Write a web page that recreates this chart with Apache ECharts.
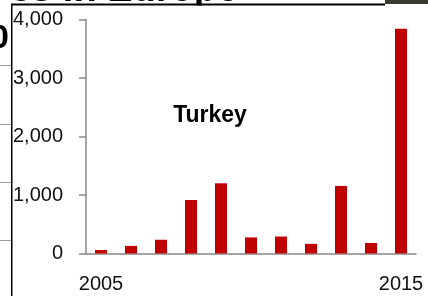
<!DOCTYPE html>
<html>
<head>
<meta charset="utf-8">
<script src="https://cdn.jsdelivr.net/npm/echarts@6/dist/echarts.min.js"></script>
<style>html,body{margin:0;padding:0;background:#fff}#c{width:428px;height:296px}</style>
</head>
<body>
<div id="c"></div>
<script>
var years = ['2005','2006','2007','2008','2009','2010','2011','2012','2013','2014','2015'];
var applications = [60, 130, 235, 915, 1200, 275, 290, 165, 1155, 180, 3840];
var yTicks = [0, 1000, 2000, 3000, 4000];
var seriesName = 'Turkey';
var titleFragment = 'es in Europe';

var labelFont = '"Liberation Sans",Arial,sans-serif';
var chart = echarts.init(document.getElementById('c'), null, {renderer: 'canvas'});
chart.setOption({
  animation: false,
  grid: {left: 86, right: 12, top: 19.5, bottom: 42.5},
  xAxis: {
    type: 'category',
    data: years,
    boundaryGap: true,
    axisLine: {lineStyle: {color: '#888', width: 1.5}},
    axisTick: {show: false},
    axisLabel: {
      interval: function (i) { return i === 0 || i === years.length - 1; },
      color: '#111', fontFamily: labelFont, fontSize: 20, margin: 21
    }
  },
  yAxis: {
    type: 'value',
    min: yTicks[0], max: yTicks[yTicks.length - 1], interval: 1000,
    axisLine: {show: true, lineStyle: {color: '#888', width: 1.5}},
    axisTick: {show: true, length: 7, lineStyle: {color: '#888', width: 1.5}},
    splitLine: {show: false},
    axisLabel: {
      color: '#111', fontFamily: labelFont, fontSize: 20, margin: 23,
      formatter: function (v) { return v.toLocaleString('en-US'); }
    }
  },
  series: [{
    name: seriesName,
    type: 'bar',
    data: applications,
    barWidth: 12,
    itemStyle: {color: '#C00000'}
  }],
  graphic: [
    {type: 'text', x: 210, y: 116, style: {text: seriesName, fill: '#000', font: 'bold 23px "Liberation Sans", Arial, sans-serif', textAlign: 'center', textVerticalAlign: 'middle'}},
    {type: 'text', x: 10, y: -9.5, z: 1, style: {text: titleFragment, fill: '#000', font: 'bold 38px "Liberation Sans", Arial, sans-serif', textAlign: 'left', textVerticalAlign: 'middle'}},
    {type: 'rect', z: 2, shape: {x: 13, y: 5.5, width: 2, height: 8}, style: {fill: '#fff'}},
    {type: 'rect', z: 2, shape: {x: 90, y: 5.5, width: 294, height: 10}, style: {fill: '#fff'}},
    {type: 'rect', z: 3, shape: {x: 385, y: 0, width: 43, height: 4}, style: {fill: '#3b3a30'}},
    {type: 'line', z: 3, shape: {x1: 11, y1: 4.5, x2: 385, y2: 4.5}, style: {stroke: '#000', lineWidth: 2}},
    {type: 'line', z: 3, shape: {x1: 11.75, y1: 4, x2: 11.75, y2: 296}, style: {stroke: '#000', lineWidth: 1.5}},
    {type: 'text', x: 9, y: 39, style: {text: '0', fill: '#000', font: 'bold 34px "Liberation Sans", Arial, sans-serif', textAlign: 'right', textVerticalAlign: 'middle'}},
    {type: 'line', shape: {x1: 0, y1: 65.5, x2: 11, y2: 65.5}, style: {stroke: '#999', lineWidth: 1}},
    {type: 'line', shape: {x1: 0, y1: 124.5, x2: 11, y2: 124.5}, style: {stroke: '#999', lineWidth: 1}},
    {type: 'line', shape: {x1: 0, y1: 182.5, x2: 11, y2: 182.5}, style: {stroke: '#999', lineWidth: 1}},
    {type: 'line', shape: {x1: 0, y1: 240.5, x2: 11, y2: 240.5}, style: {stroke: '#999', lineWidth: 1}}
  ]
});
</script>
</body>
</html>
